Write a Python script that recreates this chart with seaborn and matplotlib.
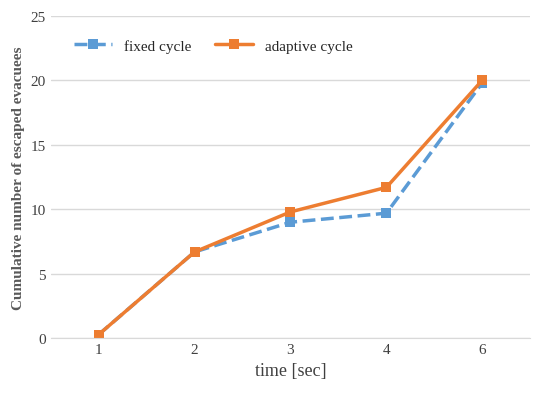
import matplotlib
matplotlib.use("Agg")
import matplotlib.pyplot as plt
import seaborn as sns
import pandas as pd

times = ["1", "2", "3", "4", "6"]
fixed = [0.3, 6.7, 9.0, 9.7, 19.8]
adaptive = [0.3, 6.7, 9.8, 11.7, 20.0]

sns.set_style("white")
plt.rcParams['font.family'] = ['Liberation Serif', 'DejaVu Serif']

df = pd.DataFrame({"time": list(range(len(times))) * 2,
                   "value": fixed + adaptive,
                   "series": ["fixed cycle"] * 5 + ["adaptive cycle"] * 5})

fig, ax = plt.subplots(figsize=(5.33, 4.14), dpi=100)
fig.subplots_adjust(left=0.095, right=0.995, top=0.96, bottom=0.18)
sns.lineplot(data=df[df.series == "fixed cycle"], x="time", y="value", ax=ax,
             color="#5b9bd5", linestyle="--", linewidth=2.5, marker="s",
             markersize=7, markeredgewidth=0, label="fixed cycle")
sns.lineplot(data=df[df.series == "adaptive cycle"], x="time", y="value", ax=ax,
             color="#ed7d31", linewidth=2.5, marker="s",
             markersize=7, markeredgewidth=0, label="adaptive cycle")
ax.set_xticks(range(len(times)))
ax.set_xticklabels(times)
ax.set_xlim(-0.5, len(times) - 0.5)
ax.set_ylim(0, 25)
ax.set_yticks(range(0, 26, 5))
ax.yaxis.grid(True, color="#d9d9d9", linewidth=1)
for s in ["top", "right", "left"]:
    ax.spines[s].set_visible(False)
ax.spines["bottom"].set_color("#d9d9d9")
ax.tick_params(colors="#404040", labelsize=11, length=0)
ax.set_xlabel("time [sec]", fontsize=13, color="#404040")
ax.set_ylabel("Cumulative number of escaped evacuees", fontsize=11, color="#595959", fontweight="bold")
ax.legend(loc="upper left", bbox_to_anchor=(0.02, 0.97), ncol=2, frameon=False,
          fontsize=11, handlelength=2.5, columnspacing=1.5)
fig.savefig("out.png")
